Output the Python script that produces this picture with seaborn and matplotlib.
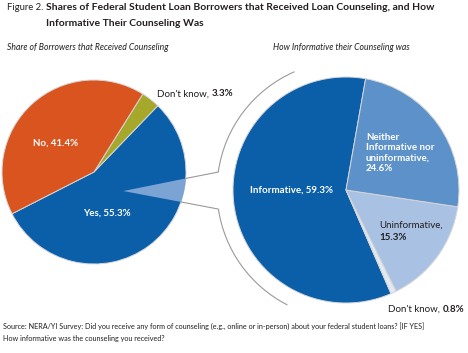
import numpy as np
import matplotlib.pyplot as plt
import seaborn as sns
from matplotlib.patches import Polygon, Arc

# data
received_labels = ["Yes", "Don't know", "No"]
received_shares = [55.3, 3.3, 41.4]
informative_labels = ["Informative", "Don't know", "Uninformative",
                      "Neither informative nor uninformative"]
informative_shares = [59.3, 0.8, 15.3, 24.6]

received_colors = ["#0b5ea8", "#a6a82c", "#d9541f"]
informative_colors = ["#0b5ea8", "#e2e9f3", "#a9c2e3", "#5c91c9"]

sns.set_theme(style="white")
plt.rcParams["font.family"] = ["Lato", "DejaVu Sans"]

W, H = 468, 353
ink = "#231f20"
fig = plt.figure(figsize=(4.68, 3.53), dpi=100)
ax = fig.add_axes([0, 0, 1, 1])

left_c, left_r = (94, H - 172), 92
right_c, right_r = (346, H - 190), 113

edge = dict(edgecolor="#d6d6d6", linewidth=0.7)
ax.pie(received_shares, colors=received_colors, startangle=207,
       center=left_c, radius=left_r, wedgeprops=edge, frame=True)
ax.pie(informative_shares, colors=informative_colors, startangle=80,
       center=right_c, radius=right_r, wedgeprops=edge, frame=True)


def polar(c, r, deg):
    t = np.deg2rad(deg)
    return c[0] + r * np.cos(t), c[1] + r * np.sin(t)


# highlighted slice inside "Yes" that gets broken out
apex = polar(left_c, 0.38 * left_r, -33)
base = [polar(left_c, left_r, a) for a in np.linspace(-19, -4, 12)]
ax.add_patch(Polygon([apex] + base, closed=True, facecolor="#7ba4d4",
                     edgecolor="none", zorder=3))

# connector lines and bracket arc
arc_r = 129
line_kw = dict(color="#9a9a9a", linewidth=0.8, zorder=4)
for a_left, a_right in [(-4, 172), (-19, 188.5)]:
    p0 = polar(left_c, left_r, a_left)
    p1 = polar(right_c, arc_r, a_right)
    ax.plot([p0[0], p1[0]], [p0[1], p1[1]], **line_kw)
for t1, t2 in [(113.5, 172), (188.5, 243)]:
    ax.add_patch(Arc(right_c, 2 * arc_r, 2 * arc_r, theta1=t1, theta2=t2,
                     color="#9a9a9a", linewidth=0.8))

ax.set_xlim(0, W)
ax.set_ylim(0, H)
ax.set_aspect("equal")
ax.axis("off")

# title
ax.text(7, H - 7, "Figure 2.", fontsize=6.8, color=ink, va="center")
ax.text(46, H - 7, "Shares of Federal Student Loan Borrowers that Received Loan Counseling, and How",
        fontsize=7.5, fontweight="bold", color=ink, va="center")
ax.text(46, H - 24, "Informative Their Counseling Was",
        fontsize=7.5, fontweight="bold", color=ink, va="center")

ax.text(7, H - 48, "Share of Borrowers that Received Counseling",
        fontsize=6.2, style="italic", color=ink, va="center")
ax.text(273, H - 48, "How Informative their Counseling was",
        fontsize=6.2, style="italic", color=ink, va="center")

# slice labels
white = dict(color="white", fontweight="bold", fontsize=7, va="center")
ax.text(56, H - 143, "No, 41.4%", ha="center", **white)
ax.text(107, H - 213, "Yes, 55.3%", ha="center", **white)
ax.text(292, H - 190, "Informative, 59.3%", ha="center", **white)
ax.text(366, H - 133, "Neither\nInformative nor\nuninformative,\n24.6%",
        ha="left", linespacing=1.2, **{**white, "va": "top"})

dk = ax.text(157, H - 94, "Don't know, ", fontsize=7, color=ink, va="center")
ax.annotate("3.3%", xy=(1, 0.5), xycoords=dk, va="center", fontsize=7,
            fontweight="bold", color=ink)
ax.text(379, H - 225, "Uninformative,", fontsize=7, color=ink, va="center")
ax.text(379, H - 237, "15.3%", fontsize=7, fontweight="bold", color=ink, va="center")
dk2 = ax.text(388, H - 309, "Don't know, ", fontsize=7, color=ink, va="center")
ax.annotate("0.8%", xy=(1, 0.5), xycoords=dk2, va="center", fontsize=7,
            fontweight="bold", color=ink)

# source
ax.text(3, H - 326, "Source: NERA/YI Survey: Did you receive any form of counseling (e.g., online or in-person) "
        "about your federal student loans? [IF YES]", fontsize=5.25, color=ink, va="center")
ax.text(3, H - 338, "How informative was the counseling you received?",
        fontsize=5.25, color=ink, va="center")

fig.savefig("out.png", dpi=100)
